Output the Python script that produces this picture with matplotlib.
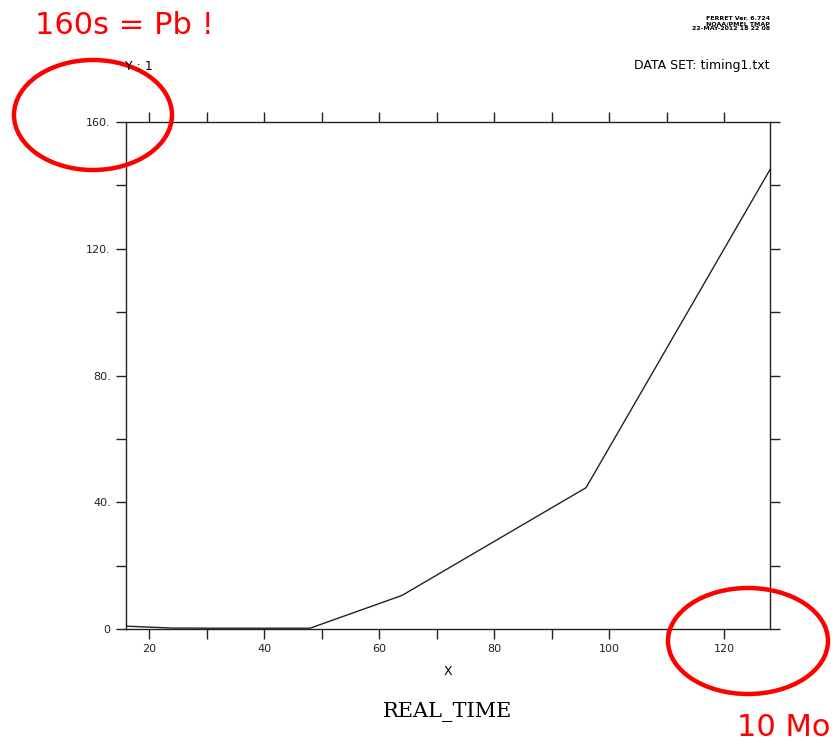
import matplotlib.pyplot as plt
import numpy as np
from matplotlib.patches import Ellipse
from matplotlib.ticker import MultipleLocator, FuncFormatter

# timing data
sizes = np.array([16, 24, 32, 48, 64, 96, 128])
real_time = np.array([0.9, 0.3, 0.25, 0.25, 10.6, 44.6, 145.0])

fig = plt.figure(figsize=(8.35, 7.45), dpi=100)
ax = fig.add_axes([0.1509, 0.1557, 0.7713, 0.6805])

ax.plot(sizes, real_time, color='#222222', lw=1.0)
ax.set_xlim(16, 128)
ax.set_ylim(0, 160)

ax.xaxis.set_major_locator(MultipleLocator(20))
ax.xaxis.set_minor_locator(MultipleLocator(10))
ax.yaxis.set_major_locator(MultipleLocator(40))
ax.yaxis.set_minor_locator(MultipleLocator(20))
ax.yaxis.set_major_formatter(FuncFormatter(lambda v, p: '0' if v == 0 else '%d.' % v))
ax.tick_params(which='both', direction='out', length=7.5, width=1, top=True, right=True,
               labelsize=8, colors='#222222')
for s in ax.spines.values():
    s.set_linewidth(1.0)
    s.set_color('#222222')

ax.set_xlabel('X', fontsize=9, labelpad=8)

fig.text(0.5365, 1 - 712 / 745, 'REAL_TIME', family='DejaVu Serif', fontsize=15,
         ha='center', va='center')
fig.text(0.150, 1 - 66 / 745, 'Y : 1', fontsize=9, ha='left', va='center')
fig.text(0.922, 1 - 66 / 745, 'DATA SET: timing1.txt', fontsize=9, ha='right', va='center')
fig.text(0.922, 1 - 24 / 745, 'FERRET Ver. 6.724\nNOAA/PMEL TMAP\n22-MAY-2012 18 22 08',
         fontsize=4.5, ha='right', va='center', linespacing=1.0, fontweight='bold')

# red annotations
fig.text(0.042, 1 - 25 / 745, '160s = Pb !', color='#ff0000', fontsize=22, ha='left', va='center')
fig.text(0.994, 1 - 727 / 745, '10 Mo', color='#ff0000', fontsize=22, ha='right', va='center')
fig.add_artist(Ellipse((93 / 835, 1 - 115 / 745), 158 / 835, 110 / 745, transform=fig.transFigure,
                       fill=False, edgecolor='#ff0000', lw=3.2, clip_on=False))
fig.add_artist(Ellipse((748 / 835, 1 - 641 / 745), 160 / 835, 106 / 745, transform=fig.transFigure,
                       fill=False, edgecolor='#ff0000', lw=3.2, clip_on=False))

fig.savefig('out.png', dpi=100)
